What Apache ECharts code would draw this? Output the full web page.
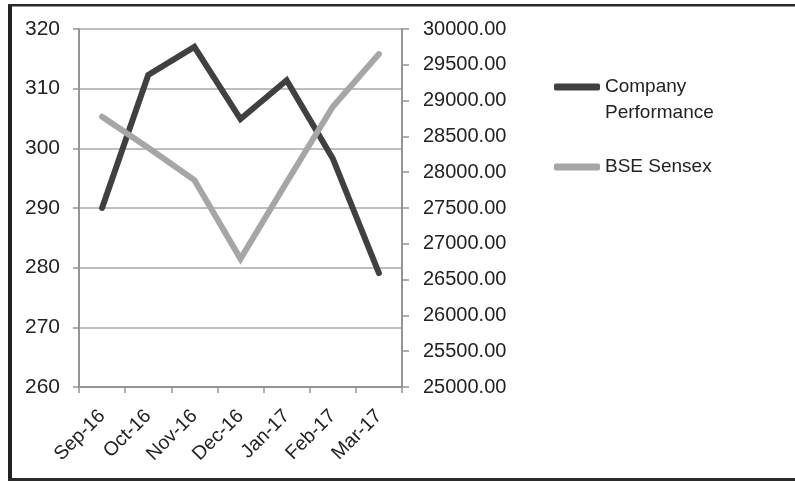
<!DOCTYPE html>
<html>
<head>
<meta charset="utf-8">
<script src="https://cdn.jsdelivr.net/npm/echarts@6/dist/echarts.min.js"></script>
<style>html,body{margin:0;padding:0;background:#fff;}#c{width:795px;height:481px;}</style>
</head>
<body>
<div id="c"></div>
<script>
var categories = ['Sep-16','Oct-16','Nov-16','Dec-16','Jan-17','Feb-17','Mar-17'];
var companyPerformance = [290, 312.3, 317, 304.9, 311.4, 298.3, 279.1];
var bseSensex = [28775, 28340, 27890, 26790, 27860, 28915, 29650];
var leftTicks = {min: 260, max: 320, interval: 10};
var rightTicks = {min: 25000, max: 30000, interval: 500};

var chart = echarts.init(document.getElementById('c'), null, {renderer: 'canvas'});
var font = 'Liberation Sans, Arial, sans-serif';
var axisGray = '#959595';
chart.setOption({
  backgroundColor: '#ffffff',
  animation: false,
  graphic: [
    {type: 'rect', shape: {x: 8, y: 4, width: 4, height: 477}, style: {fill: '#222'}},
    {type: 'rect', shape: {x: 8, y: 4, width: 787, height: 2.5}, style: {fill: '#2a2a2a'}},
    {type: 'rect', shape: {x: 8, y: 478, width: 787, height: 3}, style: {fill: '#2a2a2a'}}
  ],
  grid: {left: 79, right: 393, top: 29, bottom: 94, containLabel: false},
  legend: [
    {
      left: 549, top: 43, orient: 'vertical', padding: 5,
      itemWidth: 46, itemHeight: 7, icon: 'roundRect',
      data: ['Company Performance'],
      formatter: function () { return ' \nCompany\nPerformance'; },
      textStyle: {fontFamily: font, fontSize: 19, color: '#222', lineHeight: 26}
    },
    {
      left: 549, top: 152, orient: 'vertical', padding: 5,
      itemWidth: 46, itemHeight: 7, icon: 'roundRect',
      data: ['BSE Sensex'],
      textStyle: {fontFamily: font, fontSize: 19, color: '#222', lineHeight: 20}
    }
  ],
  xAxis: {
    type: 'category', data: categories, boundaryGap: true,
    axisLine: {show: true, lineStyle: {color: axisGray, width: 2}},
    axisTick: {show: true, length: 6, alignWithLabel: false, lineStyle: {color: axisGray, width: 1.5}},
    axisLabel: {rotate: 45, margin: 26, fontFamily: font, fontSize: 19.5, color: '#222', interval: 0},
    splitLine: {show: false}
  },
  yAxis: [
    {
      type: 'value', position: 'left',
      min: leftTicks.min, max: leftTicks.max, interval: leftTicks.interval,
      axisLine: {show: true, lineStyle: {color: axisGray, width: 2}},
      axisTick: {show: true, length: 6, lineStyle: {color: axisGray, width: 1.5}},
      axisLabel: {margin: 19, fontFamily: font, fontSize: 21, color: '#222'},
      splitLine: {show: true, lineStyle: {color: '#a8a8a8', width: 1.5}}
    },
    {
      type: 'value', position: 'right',
      min: rightTicks.min, max: rightTicks.max, interval: rightTicks.interval,
      axisLine: {show: true, lineStyle: {color: axisGray, width: 2}},
      axisTick: {show: true, length: 7, lineStyle: {color: axisGray, width: 1.5}},
      axisLabel: {margin: 21, fontFamily: font, fontSize: 20, color: '#222',
        formatter: function (v) { return v.toFixed(2); }},
      splitLine: {show: false}
    }
  ],
  series: [
    {
      name: 'Company Performance', type: 'line', yAxisIndex: 0,
      data: companyPerformance, showSymbol: false, symbol: 'none',
      itemStyle: {color: '#404040'},
      lineStyle: {color: '#404040', width: 6, cap: 'round', join: 'miter'}
    },
    {
      name: 'BSE Sensex', type: 'line', yAxisIndex: 1,
      data: bseSensex, showSymbol: false, symbol: 'none',
      itemStyle: {color: '#a6a6a6'},
      lineStyle: {color: '#a6a6a6', width: 6, cap: 'round', join: 'miter'}
    }
  ]
});
</script>
</body>
</html>
